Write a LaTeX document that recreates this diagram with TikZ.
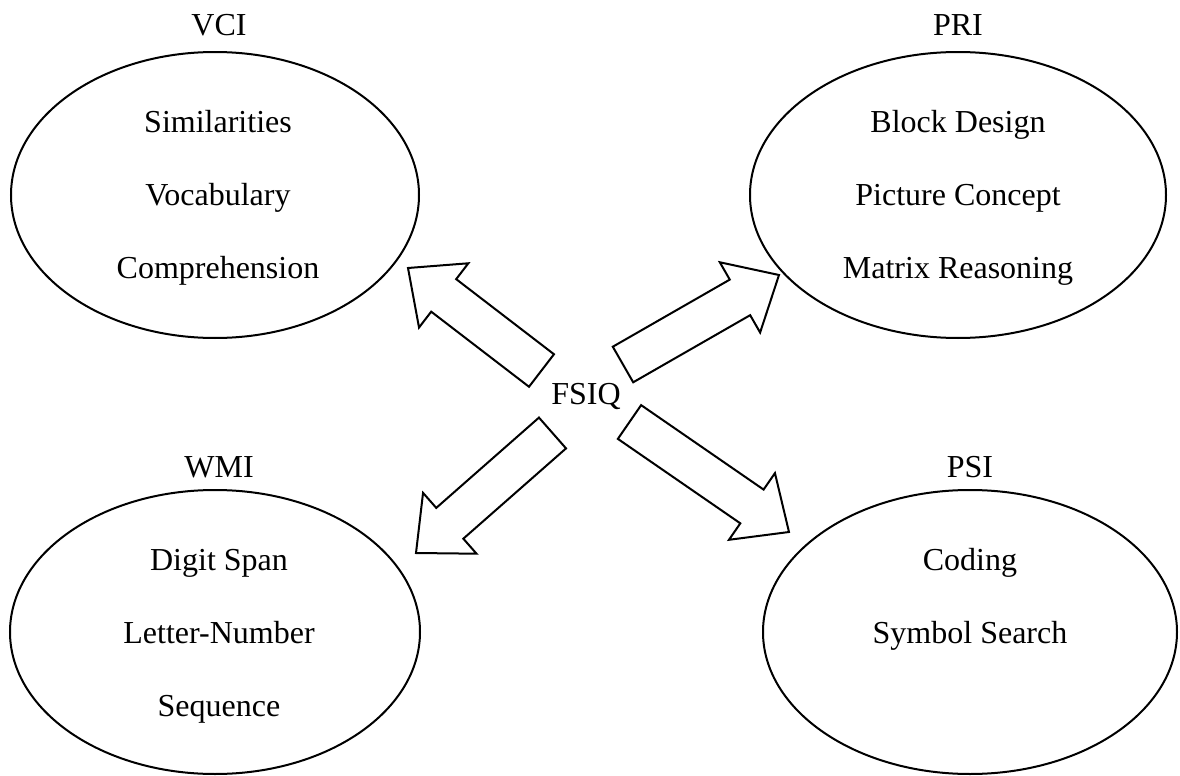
\documentclass[tikz,border=0pt]{standalone}
\usepackage{fontspec}
\setmainfont{Liberation Serif}
\usetikzlibrary{shapes.geometric,calc}

\begin{document}
\begin{tikzpicture}[
        x=0.5pt, y=-0.5pt,
        index/.style={ellipse, draw, line width=1pt, minimum height=143pt, inner sep=0pt},
        heading/.style={anchor=base, font=\fontsize{16}{19}\selectfont},
        subtest/.style={anchor=base, font=\fontsize{16}{19}\selectfont},
        blockarrow/.style={draw, line width=1pt, line join=miter, fill=white}
    ]
    \useasboundingbox (0,0) rectangle (1180,776);

    % Index ellipses
    \node[index, minimum width=204pt] (VCI) at (215,195) {};
    \node[index, minimum width=208pt] (PRI) at (958,195) {};
    \node[index, minimum width=205pt, minimum height=142pt] (WMI) at (215,632) {};
    \node[index, minimum width=207pt, minimum height=142pt] (PSI) at (970,632) {};

    % Index names
    \node[heading] (VCI-name) at (219,35) {VCI};
    \node[heading] (PRI-name) at (958,35) {PRI};
    \node[heading] (WMI-name) at (219,477) {WMI};
    \node[heading] (PSI-name) at (970,477) {PSI};
    \node[heading] (FSIQ) at (586,404) {FSIQ};

    % Subtests
    \foreach \s [count=\k] in {Similarities,Vocabulary,Comprehension}
        \node[subtest] (VCI-\k) at (218,59+73*\k) {\s};
    \foreach \s [count=\k] in {Block Design,Picture Concept,Matrix Reasoning}
        \node[subtest] (PRI-\k) at (958,59+73*\k) {\s};
    \foreach \s [count=\k] in {Digit Span,Letter-Number,Sequence}
        \node[subtest] (WMI-\k) at (219,497+73*\k) {\s};
    \foreach \s [count=\k] in {Coding,Symbol Search}
        \node[subtest] (PSI-\k) at (970,497+73*\k) {\s};

    % Block arrows from FSIQ
    \coordinate (VCI-tail) at (541.5,370.5);
    \coordinate (VCI-tip) at (408,268);
    \coordinate (PRI-tail) at (623,364.5);
    \coordinate (PRI-tip) at (779,275);
    \coordinate (WMI-tail) at (552.5,433);
    \coordinate (WMI-tip) at (416,553);
    \coordinate (PSI-tail) at (629.5,422);
    \coordinate (PSI-tip) at (789,532);

    \foreach \n in {VCI,PRI,WMI,PSI} {
        \coordinate (\n-base) at ($(\n-tip)!22.5pt!(\n-tail)$);
        \draw[blockarrow] ($(\n-tail)!10.25pt!90:(\n-tip)$) -- ($(\n-base)!10.25pt!90:(\n-tip)$)
            -- ($(\n-base)!20.25pt!90:(\n-tip)$) -- (\n-tip) -- ($(\n-base)!20.25pt!-90:(\n-tip)$)
            -- ($(\n-base)!10.25pt!-90:(\n-tip)$) -- ($(\n-tail)!10.25pt!-90:(\n-tip)$) -- cycle;
    }

\end{tikzpicture}
\end{document}
